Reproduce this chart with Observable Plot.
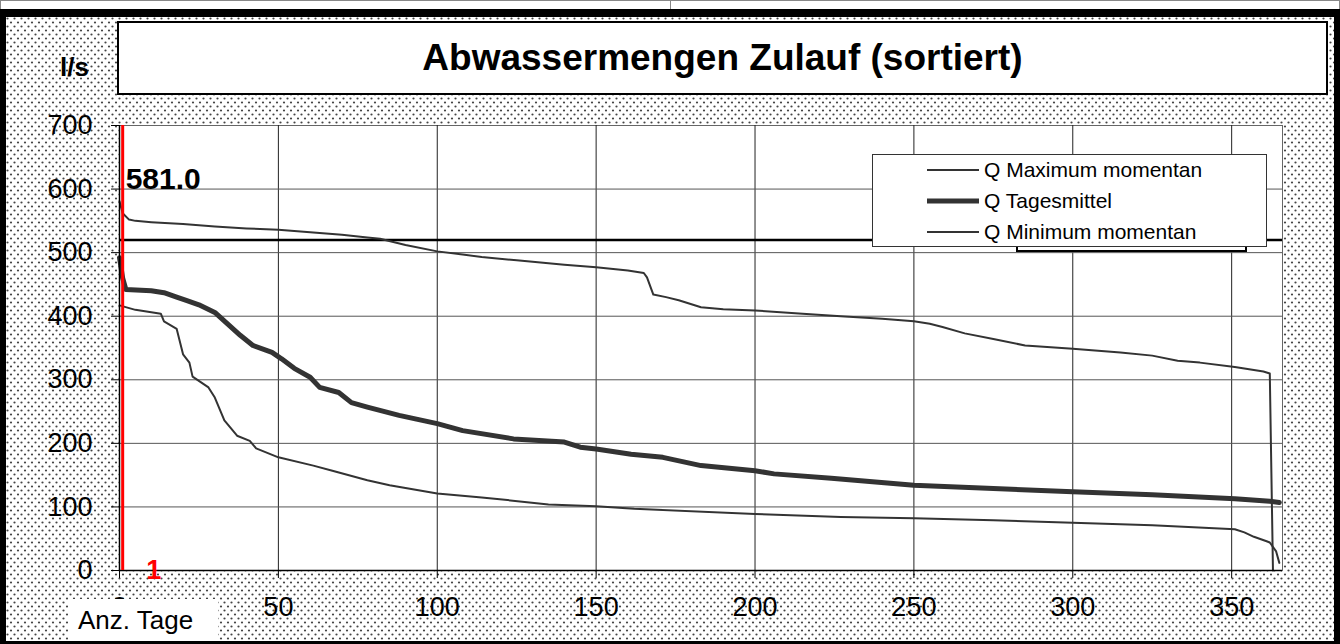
<!DOCTYPE html>
<html>
<head>
<meta charset="utf-8">
<script src="https://cdn.jsdelivr.net/npm/d3@7"></script>
<script src="https://cdn.jsdelivr.net/npm/@observablehq/plot@0.6"></script>
<style>
html,body{margin:0;padding:0;background:#fff;}
#c{position:relative;width:1340px;height:644px;overflow:hidden;font-family:"Liberation Sans",Arial,sans-serif;color:#000;}
.abs{position:absolute;box-sizing:border-box;}
#strip{left:0;top:0;width:1340px;height:10px;border:1px solid #888;background:#fff;}
#strip .div{position:absolute;left:669px;top:0;width:1px;height:9px;background:#888;}
#dots{left:0;top:9px;width:1340px;height:635px;border-style:solid;border-color:#000;border-width:8px 6px 3px 6px;
 background-color:#fff;
 background-image:url("data:image/svg+xml,%3Csvg xmlns='http://www.w3.org/2000/svg' width='7' height='8'%3E%3Ccircle cx='1.5' cy='1.5' r='1.1' fill='%23444'/%3E%3Ccircle cx='5' cy='5.5' r='1.1' fill='%23444'/%3E%3C/svg%3E");}
#title{left:117px;top:21px;width:1211px;height:74px;border:2px solid #000;background:#fff;
 font-weight:bold;font-size:37px;text-align:center;line-height:70px;}
#unit{left:60px;top:52px;font-weight:bold;font-size:26px;}
#plot{left:0;top:0;}
#hidbox{left:1016px;top:205px;width:231px;height:47px;border:2px solid #000;background:#fff;}
#legend{left:872px;top:154px;width:395px;height:93px;border:1px solid #333;background:#fff;}
#xlabel{left:68px;top:599px;width:150px;height:42px;background:#fff;font-size:26px;padding-left:10px;line-height:42px;}
</style>
</head>
<body>
<div id="c">
  <div class="abs" id="strip"><div class="div"></div></div>
  <div class="abs" id="dots"></div>
  <div class="abs" id="title"></div>
  <div class="abs" id="unit"></div>
  <div class="abs" id="plot"></div>
  <div class="abs" id="hidbox"></div>
  <div class="abs" id="legend"></div>
  <div class="abs" id="xlabel"></div>
</div>
<script>
// ---- texts ----
const titleText = "Abwassermengen Zulauf (sortiert)";
const unitText = "l/s";
const xAxisText = "Anz. Tage";
const seriesNames = ["Q Maximum momentan", "Q Tagesmittel", "Q Minimum momentan"];

// ---- ticks ----
const xTicks = [0, 50, 100, 150, 200, 250, 300, 350];
const yTicks = [0, 100, 200, 300, 400, 500, 600, 700];

// ---- reference values ----
const limitLine = 520;      // horizontal black line (l/s)
const markerDay = 1;        // red marker line / label

// ---- Q Maximum momentan (sorted, day -> l/s) ----
const maxDays = [0, 1, 3, 5, 10, 20, 30, 40, 50, 60, 70, 78, 82, 90, 100, 108, 114, 125, 140, 150, 160, 165, 166, 168, 172, 176, 183, 190, 200, 215, 227, 240, 250, 255, 259, 266, 275, 285, 300, 315, 325, 333, 340, 351, 360, 362, 363];
const maxQ    = [581, 562, 552, 550, 548, 545, 541, 538, 536, 532, 528, 524, 522, 512, 502, 497, 493, 488, 481, 477, 472, 468, 461, 434, 430, 425, 414, 411, 409, 404, 400, 396, 392, 388, 383, 373, 364, 354, 349, 343, 338, 330, 327, 320, 313, 310, 0];

// ---- Q Tagesmittel ----
const meanDays = [0, 1, 2, 10, 14, 18, 21, 25, 30, 34, 38, 42, 48, 51, 55, 60, 63, 69, 73, 78, 88, 100, 108, 124, 140, 145, 150, 161, 171, 183, 200, 206, 224, 250, 275, 300, 325, 351, 362, 365];
const meanQ    = [492, 460, 442, 440, 437, 430, 425, 418, 406, 388, 370, 354, 343, 333, 318, 304, 288, 280, 264, 257, 244, 231, 220, 207, 202, 194, 191, 183, 178, 165, 157, 152, 145, 134, 129, 124, 119, 113, 109, 107];

// ---- Q Minimum momentan ----
const minDays = [0, 5, 13, 14, 18, 20, 22, 23, 28, 30, 33, 37, 41, 43, 50, 61, 67, 78, 85, 100, 114, 135, 150, 162, 200, 227, 250, 275, 300, 325, 351, 354, 357, 361, 362, 364, 365];
const minQ    = [417, 410, 404, 392, 380, 340, 327, 305, 288, 272, 236, 212, 204, 192, 178, 165, 157, 142, 134, 121, 115, 104, 101, 97, 89, 84, 82, 79, 75, 71, 65, 60, 53, 46, 44, 30, 12];

const rows = (days, q, s) => days.map((d, i) => ({day: d, q: q[i], s}));
const maxRows = rows(maxDays, maxQ, seriesNames[0]);
const meanRows = rows(meanDays, meanQ, seriesNames[1]);
const minRows = rows(minDays, minQ, seriesNames[2]);
const lineColor = "#333";
const widths = [2, 5, 2];

document.getElementById("title").textContent = titleText;
document.getElementById("unit").textContent = unitText;
document.getElementById("xlabel").textContent = xAxisText;

const chart = Plot.plot({
  width: 1340, height: 644,
  marginLeft: 119, marginRight: 58, marginTop: 125, marginBottom: 74,
  style: {background: "transparent", fontFamily: "Liberation Sans, Arial, sans-serif", fontSize: "27px", color: "#000", overflow: "visible"},
  x: {domain: [0, 366], ticks: xTicks, tickSize: 8, tickPadding: 18, label: null, tickFormat: d => String(d)},
  y: {domain: [0, 700], ticks: yTicks, tickSize: 8, tickPadding: 19, label: null, tickFormat: d => String(d)},
  marks: [
    Plot.frame({fill: "white", stroke: "#666"}),
    Plot.ruleX(xTicks.filter(d => d > 0), {stroke: "#222", strokeWidth: 1}),
    Plot.ruleY(yTicks.filter(d => d > 0 && d < 700), {stroke: "#555", strokeWidth: 1}),
    Plot.ruleY([limitLine], {stroke: "#000", strokeWidth: 2.5}),
    Plot.line(maxRows, {x: "day", y: "q", stroke: lineColor, strokeWidth: widths[0]}),
    Plot.line(meanRows, {x: "day", y: "q", stroke: lineColor, strokeWidth: widths[1]}),
    Plot.line(minRows, {x: "day", y: "q", stroke: lineColor, strokeWidth: widths[2]}),
    Plot.ruleX([0], {stroke: "#000", strokeWidth: 1.5}),
    Plot.ruleY([0], {stroke: "#000", strokeWidth: 1.5}),
    Plot.ruleX([markerDay], {stroke: "#ff0000", strokeWidth: 3}),
    Plot.text([maxRows[0]], {x: () => markerDay, frameAnchor: "top", dy: 42, dx: 3, text: d => d.q.toFixed(1),
      textAnchor: "start", fontWeight: "bold", fontSize: 30, fill: "#000"}),
    Plot.text([markerDay], {x: d => d, y: () => 0, dx: 31, text: d => String(d), fill: "#ff0000",
      fontWeight: "bold", fontSize: 27})
  ]
});
document.getElementById("plot").appendChild(chart);

// ---- legend ----
const legend = d3.select("#legend").append("svg").attr("width", 393).attr("height", 91)
  .style("position", "absolute").style("left", "0").style("top", "0");
seriesNames.forEach((name, i) => {
  const y = 15 + i * 31;
  legend.append("line").attr("x1", 54).attr("x2", 106).attr("y1", y).attr("y2", y)
    .attr("stroke", lineColor).attr("stroke-width", widths[i]);
  legend.append("text").attr("x", 111).attr("y", y).attr("dy", "0.35em")
    .attr("font-family", "Liberation Sans, Arial, sans-serif").attr("font-size", 21).attr("fill", "#000")
    .text(name);
});
</script>
</body>
</html>
